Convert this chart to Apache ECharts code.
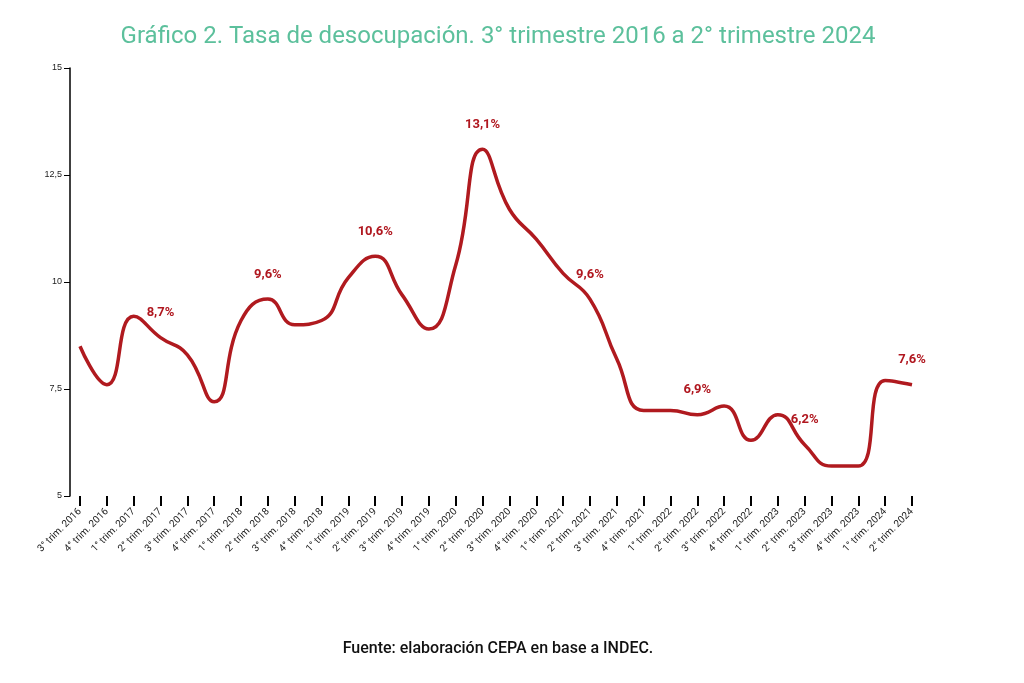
<!DOCTYPE html>
<html lang="es">
<head>
<meta charset="UTF-8">
<script src="https://cdn.jsdelivr.net/npm/echarts@6/dist/echarts.min.js"></script>
<style>
  body { margin: 0; background: #fff; }
  #chart { width: 1024px; height: 683px; }
</style>
</head>
<body>
<div id="chart"></div>
<script>
var categories = [
  '3° trim. 2016', '4° trim. 2016',
  '1° trim. 2017', '2° trim. 2017', '3° trim. 2017', '4° trim. 2017',
  '1° trim. 2018', '2° trim. 2018', '3° trim. 2018', '4° trim. 2018',
  '1° trim. 2019', '2° trim. 2019', '3° trim. 2019', '4° trim. 2019',
  '1° trim. 2020', '2° trim. 2020', '3° trim. 2020', '4° trim. 2020',
  '1° trim. 2021', '2° trim. 2021', '3° trim. 2021', '4° trim. 2021',
  '1° trim. 2022', '2° trim. 2022', '3° trim. 2022', '4° trim. 2022',
  '1° trim. 2023', '2° trim. 2023', '3° trim. 2023', '4° trim. 2023',
  '1° trim. 2024', '2° trim. 2024'
];
var desocupacion = [8.5, 7.6, 9.2, 8.7, 8.3, 7.2, 9.1, 9.6, 9.0, 9.1, 10.1, 10.6, 9.7, 8.9,
  10.4, 13.1, 11.7, 11.0, 10.2, 9.6, 8.2, 7.0, 7.0, 6.9, 7.1, 6.3, 6.9, 6.2, 5.7, 5.7, 7.7, 7.6];
var labeled = [3, 7, 11, 15, 19, 23, 27, 31];

var chart = echarts.init(document.getElementById('chart'));
chart.setOption({
  title: [{
    text: 'Gráfico 2. Tasa de desocupación. 3° trimestre 2016 a 2° trimestre 2024',
    left: 493, top: 20, textAlign: 'center',
    textStyle: { color: '#5cc09c', fontSize: 24, fontWeight: 'normal', fontFamily: 'Roboto' }
  }, {
    text: 'Fuente: elaboración CEPA en base a INDEC.',
    left: 493, top: 636, textAlign: 'center',
    textStyle: { color: '#111', fontSize: 16, fontWeight: 500, fontFamily: 'Roboto' }
  }],
  grid: { left: 80, right: 112, top: 68, bottom: 187 },
  xAxis: {
    type: 'category', data: categories, boundaryGap: false,
    axisLine: { show: false },
    axisTick: { show: true, alignWithLabel: true, length: 10, lineStyle: { color: '#000', width: 2 } },
    axisLabel: { rotate: 45, interval: 0, fontSize: 10, color: '#222', margin: 14, fontFamily: 'Roboto' }
  },
  yAxis: {
    type: 'value', min: 5, max: 15, interval: 2.5,
    offset: 10,
    splitLine: { show: false },
    axisLine: { show: true, lineStyle: { color: '#000', width: 1.5 } },
    axisTick: { show: true, length: 6, lineStyle: { color: '#000' } },
    axisLabel: { fontSize: 9, color: '#222', formatter: function (v) { return String(v).replace('.', ','); } }
  },
  series: [{
    type: 'line',
    data: desocupacion,
    smooth: 0.5, symbol: 'circle', symbolSize: 0.1, showSymbol: true,
    itemStyle: { color: '#b01a1f' },
    label: {
      show: true, position: 'top', distance: 18,
      formatter: function (p) {
        return labeled.indexOf(p.dataIndex) >= 0 ? String(p.value).replace('.', ',') + '%' : '';
      },
      color: '#b0171f', fontWeight: 'bold', fontSize: 13, fontFamily: 'Roboto'
    },
    lineStyle: { color: '#b01a1f', width: 3.5 }
  }]
});
</script>
</body>
</html>
